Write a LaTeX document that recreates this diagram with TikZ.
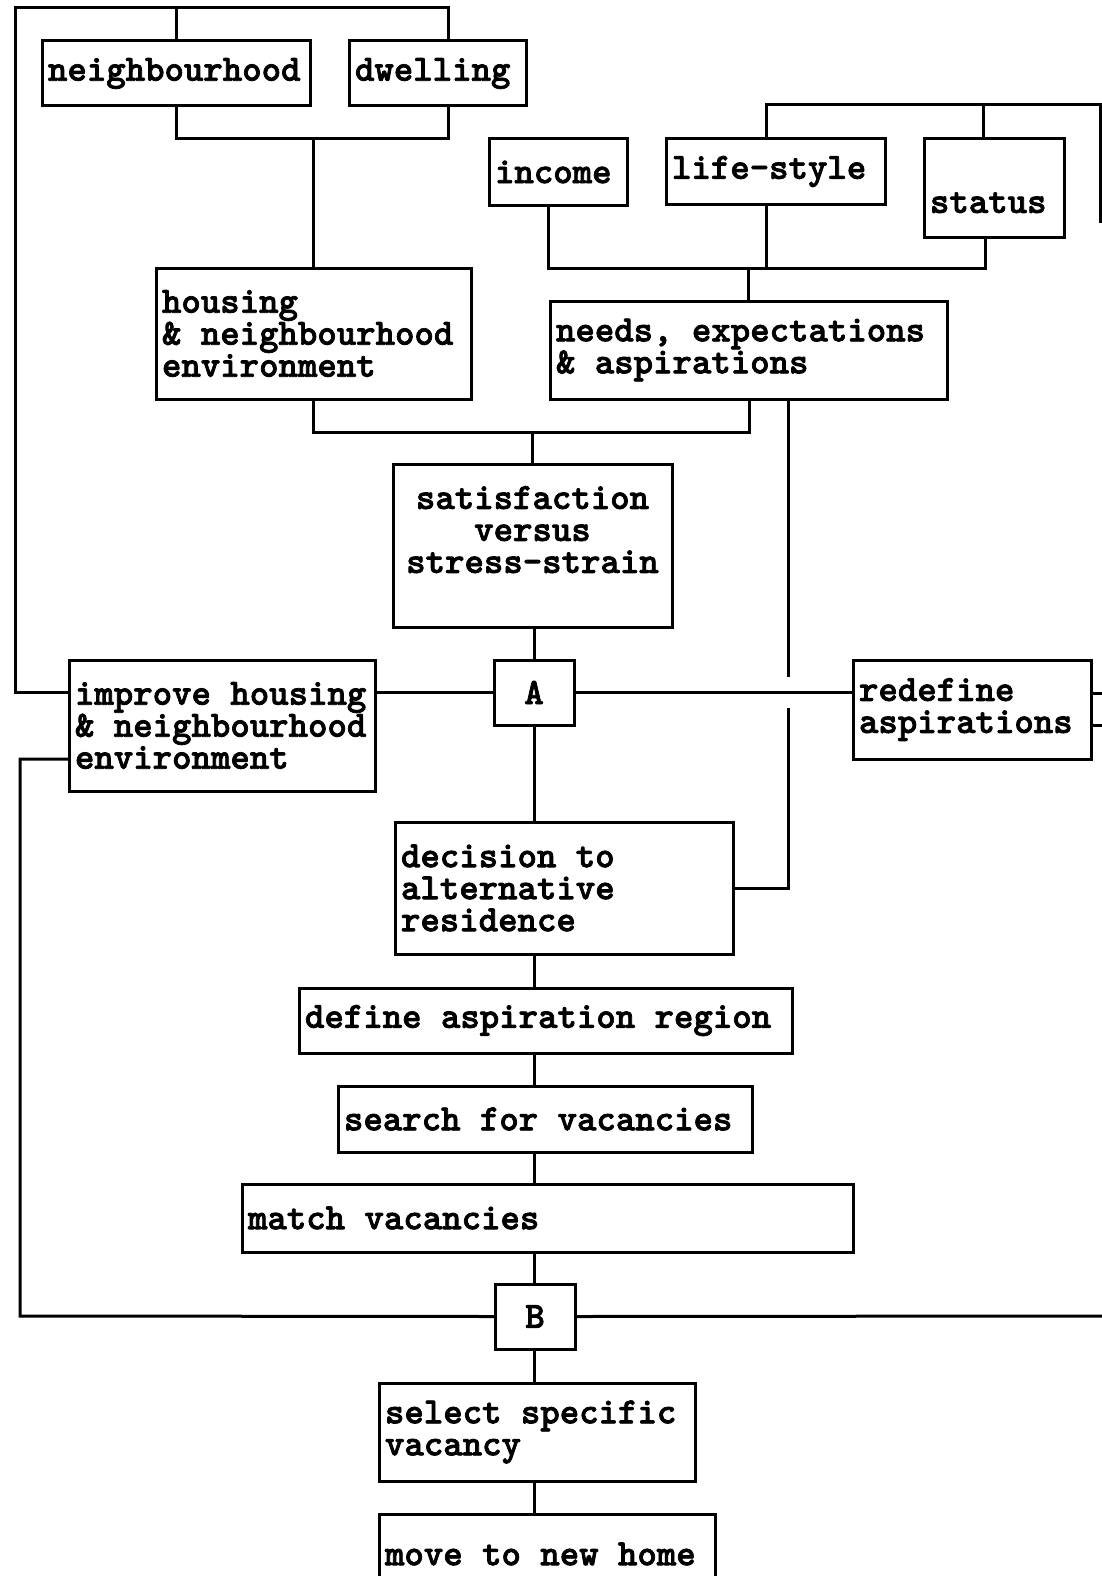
\documentclass[tikz,border=0pt]{standalone}
\usepackage{fontspec}

\newfontfamily\boxff[FakeBold=2]{lmmonolt10-bold.otf}
% fixed word spaces of one character width
\newcommand{\boxfont}{\boxff\fontsize{37}{32}\selectfont
	\fontdimen2\font=19.4pt\fontdimen3\font=0pt\fontdimen4\font=0pt
	\fontdimen6\font=58.2pt\relax}
\tikzset{
	box/.style={draw, line width=3pt, anchor=north west, outer sep=0pt,
		inner xsep=6pt, inner ysep=3pt, font=\boxfont},
	wire/.style={line width=3pt},
}

\begin{document}
\begin{tikzpicture}[x=1pt, y=-1pt]
				
				\useasboundingbox (0,0) rectangle (1102,1576);
				
				% --- Top row ---
				\node[box, text width=256pt, minimum height=65pt] (nbh) at (42,41) {neighbourhood};
				\node[box, text width=165pt, minimum height=65pt] (dwell) at (349,41) {dwelling};
				\node[box, text width=126pt, minimum height=66pt] (inc) at (489,139) {income};
				\node[box, text width=207pt, minimum height=65pt] (life) at (666,139) {life-style};
				\node[box, text width=128pt, minimum height=98pt] (stat) at (924,139) {\mbox{}\\[18pt]status};
				
				% --- Environment and aspirations ---
				\node[box, text width=303pt, minimum height=131pt] (house) at (156,268) {housing\\\& neighbourhood\\environment};
				\node[box, text width=385pt, minimum height=98pt] (needs) at (550,301) {needs, expectations\\\& aspirations};
				\node[box, text width=267pt, minimum height=163pt, align=center] (sat) at (393,464) {satisfaction\\versus\\stress-strain\\\mbox{}};
				
				% --- Decision point A ---
				\node[box, minimum width=80pt, minimum height=65pt] (A) at (494,660) {A};
				\node[box, text width=294pt, minimum height=131pt] (imp) at (69,660) {improve housing\\\& neighbourhood\\environment};
				\node[box, text width=226pt, minimum height=99pt] (redef) at (853,660) {redefine\\aspirations};
				\node[box, text width=326pt, minimum height=132pt] (dec) at (395,822) {decision to\\alternative\\residence};
				
				% --- Search chain ---
				\node[box, text width=481pt, minimum height=65pt] (defreg) at (299,988) {define aspiration region};
				\node[box, text width=402pt, minimum height=66pt] (search) at (338,1086) {search for vacancies};
				\node[box, text width=599pt, minimum height=68pt] (match) at (242,1184) {match vacancies};
				\node[box, minimum width=80pt, minimum height=65pt] (B) at (495,1284) {B};
				\node[box, text width=304pt, minimum height=98pt] (sel) at (379,1383) {select specific\\vacancy};
				\node[box, text width=324pt, minimum height=80pt] (move) at (379,1514) {move to new home};
				
				\coordinate (spine) at (534,0);  % main vertical line
				
				% --- Upper connectors ---
				\draw[wire] (imp.west |- A) -| (15,8) -| (dwell.north -| 448,0);
				\draw[wire] (nbh.north) -- (nbh.north |- 0,8);
				\draw[wire] (nbh.south) |- (448,139) -- (dwell.south -| 448,0);
				\draw[wire] (house.north) -- (house.north |- 0,139);
				
				\draw[wire] (life.north -| 766,0) |- (1100,105) -- (1100,223);
				\draw[wire] (stat.north -| 983,0) -- (983,105);
				\draw[wire] (inc.south -| 548,0) |- (985,268) -- (stat.south -| 985,0);
				\draw[wire] (life.south -| 766,0) -- (766,268);
				\draw[wire] (needs.north -| 748,0) -- (748,268);
				
				\draw[wire] (house.south) |- (749,432) -- (needs.south -| 749,0);
				\draw[wire] (sat.north) -- (sat.north |- 0,432);
				
				% --- Around A ---
				\draw[wire] (sat.south -| spine) -- (A.north);
				\draw[wire] (imp.east |- A) -- (A.west);
				\draw[wire] (A.east) -- (redef.west |- A);
				\draw[wire] (needs.south -| 788,0) -- (788,677);
				\draw[wire] (788,708) |- (dec.east);
				\draw[wire] (redef.east |- 0,693) -- ++(15,0);
				\draw[wire] (redef.east |- 0,725) -- ++(15,0);
				
				% --- Main spine ---
				\draw[wire] (A.south -| spine) -- (dec.north -| spine);
				\draw[wire] (dec.south -| spine) -- (defreg.north -| spine);
				\draw[wire] (defreg.south -| spine) -- (search.north -| spine);
				\draw[wire] (search.south -| spine) -- (match.north -| spine);
				\draw[wire] (match.south -| spine) -- (B.north -| spine);
				\draw[wire] (B.south -| spine) -- (sel.north -| spine);
				\draw[wire] (sel.south -| spine) -- (move.north -| spine);
				
				% --- Loops through B ---
				\draw[wire] (imp.west |- 0,759) -| (20,1316) -- (B.west);
				\draw[wire] (B.east) -- (1102,1316);
				
			\end{tikzpicture}
\end{document}
